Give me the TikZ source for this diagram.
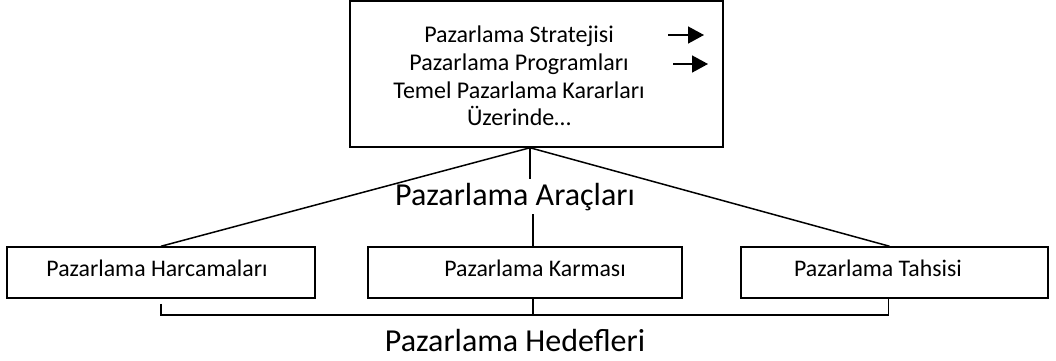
\documentclass[tikz,border=0pt]{standalone}
\usepackage{fontspec}
\setmainfont{Carlito}
\usetikzlibrary{arrows.meta}

\begin{document}
\begin{tikzpicture}[
  x=1pt,y=-1pt,
  line/.style={draw=black,line width=1.5pt},
  box/.style={line,rectangle,inner sep=0pt},
  boxtext/.style={font=\fontsize{23.8}{28}\selectfont,inner sep=0pt},
  bigtext/.style={font=\fontsize{32}{38}\selectfont,inner sep=0pt},
]
\useasboundingbox (0,0) rectangle (1056,360);
% top box
\node[box,minimum width=373pt,minimum height=146pt] (top) at (536.5,74) {};
\node[boxtext,align=center,font=\fontsize{24}{27.8}\selectfont] (toptext) at (519,76)
  {Pazarlama Stratejisi\\Pazarlama Programları\\Temel Pazarlama Kararları\\Üzerinde…};
\coordinate (a1) at (668,35);
\coordinate (b1) at (704,35);
\coordinate (a2) at (673,64);
\coordinate (b2) at (708,64);
\draw[line,-{Triangle[length=16pt,width=17pt]}] (a1) -- (b1);
\draw[line,-{Triangle[length=16pt,width=17pt]}] (a2) -- (b2);
% bottom boxes
\node[box,minimum width=308pt,minimum height=51pt] (harc) at (161,272.5) {};
\node[box,minimum width=314pt,minimum height=51pt] (karma) at (525,272.5) {};
\node[box,minimum width=307pt,minimum height=51pt] (tahsis) at (894.5,272.5) {};
\node[boxtext] at (157,268) {Pazarlama Harcamaları};
\node[boxtext] at (535,268) {Pazarlama Karması};
\node[boxtext] at (878,268) {Pazarlama Tahsisi};
% labels
\node[bigtext] (araclar) at (515,197) {Pazarlama Araçları};
\node[bigtext] (hedef) at (515,340) {Pazarlama Hedefleri};
% connectors
\coordinate (apex) at ([xshift=-6.5pt]top.south);
\draw[line] (apex) -- (harc.north);
\draw[line] (apex) -- ([xshift=-5pt]tahsis.north);
\draw[line] (apex) -- ++(0,31);
\draw[line] ([xshift=8pt]karma.north) -- ++(0,-32);
% bracket
\coordinate (bl) at ([yshift=-16pt]harc.south);
\coordinate (br) at ([xshift=-6pt,yshift=-16pt]tahsis.south);
\draw[line] ([yshift=-5pt]harc.south) -- (bl) -- (br) -- ([xshift=-6pt]tahsis.south);
\draw[line] ([xshift=8pt]karma.south) -- ([xshift=8pt]karma.south |- bl);
\end{tikzpicture}
\end{document}
